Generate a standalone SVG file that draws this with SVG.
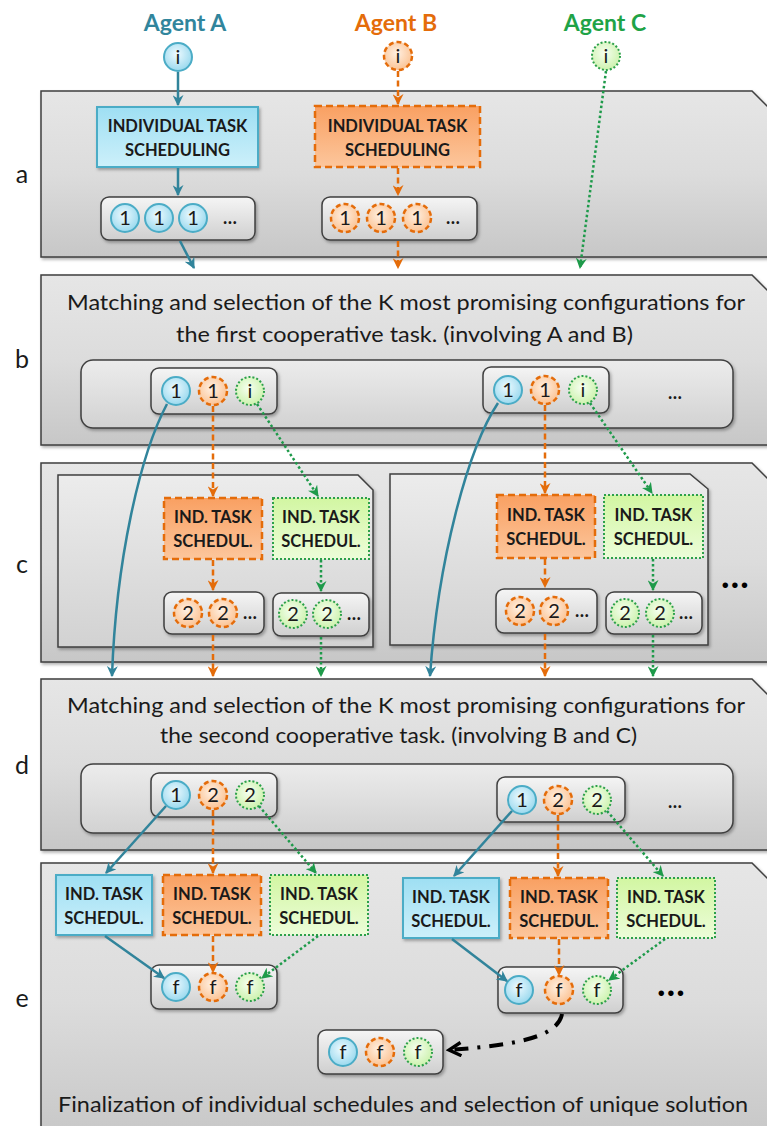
<svg xmlns="http://www.w3.org/2000/svg" width="767" height="1126" viewBox="0 0 767 1126">
<defs>
<style>
.panel{fill:url(#gPanel);stroke:#3f3f3f;stroke-width:1.5;filter:url(#sh)}
.inner{fill:url(#gInner);stroke:#3f3f3f;stroke-width:1.5;filter:url(#sh)}
.seq{fill:url(#gSeq);stroke:#3f3f3f;stroke-width:1.5;filter:url(#sh)}
.bbox{fill:url(#gBlueBox);stroke:#4bacc6;stroke-width:2;filter:url(#sh)}
.obox{fill:url(#gOrBox);stroke:#e46c0a;stroke-width:2.5;stroke-dasharray:7 4}
.gbox{fill:url(#gGrBox);stroke:#2ca04a;stroke-width:2;stroke-dasharray:2 2}
.cb{fill:url(#rBlue);stroke:#4bacc6;stroke-width:2}
.co{fill:url(#rOr);stroke:#e46c0a;stroke-width:2.5;stroke-dasharray:5 3}
.cg{fill:url(#rGr);stroke:#2ca04a;stroke-width:2;stroke-dasharray:2 2}
.ct{font-family:Lato,'Liberation Sans',sans-serif;font-size:20px;fill:#1a1a1a;text-anchor:middle}
.el{font-family:Lato,'Liberation Sans',sans-serif;font-size:18px;font-weight:bold;fill:#1a1a1a;text-anchor:middle}
.bel{font-family:Lato,'Liberation Sans',sans-serif;font-size:36px;font-weight:bold;fill:#000;text-anchor:middle}
.bt{font-family:Lato,'Liberation Sans',sans-serif;font-weight:bold;font-size:16.5px;fill:#1a1a1a;text-anchor:middle}
.bs{font-family:Lato,'Liberation Sans',sans-serif;font-weight:bold;font-size:16.5px;fill:#1a1a1a;text-anchor:middle}
.mt{font-family:Lato,'Liberation Sans',sans-serif;font-size:21px;fill:#1a1a1a}
.lab{font-family:Lato,'Liberation Sans',sans-serif;font-size:25px;fill:#1a1a1a;text-anchor:middle}
.ag{font-family:Lato,'Liberation Sans',sans-serif;font-size:23px;font-weight:bold;text-anchor:middle}
.ln{fill:none;stroke-width:2.5}
.lb{stroke:#31849b;marker-end:url(#mB)}
.lo{stroke:#e46c0a;stroke-dasharray:6 3.5;marker-end:url(#mO)}
.lg{stroke:#1e9a4a;stroke-dasharray:2.5 2.5;marker-end:url(#mG)}
</style>
<filter id="sh" x="-10%" y="-10%" width="130%" height="140%">
<feDropShadow dx="1.5" dy="2" stdDeviation="1.5" flood-color="#000" flood-opacity="0.3"/>
</filter>
<linearGradient id="gPanel" x1="0" y1="0" x2="0" y2="1">
<stop offset="0" stop-color="#e6e6e6"/><stop offset="0.5" stop-color="#dcdcdc"/><stop offset="1" stop-color="#c7c7c7"/>
</linearGradient>
<linearGradient id="gInner" x1="0" y1="0" x2="0" y2="1">
<stop offset="0" stop-color="#ececec"/><stop offset="1" stop-color="#d2d2d2"/>
</linearGradient>
<linearGradient id="gSeq" x1="0" y1="0" x2="0" y2="1">
<stop offset="0" stop-color="#f5f5f5"/><stop offset="1" stop-color="#cfcfcf"/>
</linearGradient>
<linearGradient id="gBlueBox" x1="0" y1="0" x2="0" y2="1">
<stop offset="0" stop-color="#9edff3"/><stop offset="1" stop-color="#cdf0fa"/>
</linearGradient>
<linearGradient id="gOrBox" x1="0" y1="0" x2="0" y2="1">
<stop offset="0" stop-color="#f9a062"/><stop offset="1" stop-color="#fcc69c"/>
</linearGradient>
<linearGradient id="gGrBox" x1="0" y1="0" x2="0" y2="1">
<stop offset="0" stop-color="#d2f6a2"/><stop offset="1" stop-color="#ecfdd9"/>
</linearGradient>
<radialGradient id="rBlue" cx="0.45" cy="0.4" r="0.6">
<stop offset="0" stop-color="#eefaff"/><stop offset="1" stop-color="#9ad9ee"/>
</radialGradient>
<radialGradient id="rOr" cx="0.45" cy="0.4" r="0.6">
<stop offset="0" stop-color="#fff0e2"/><stop offset="1" stop-color="#fbc394"/>
</radialGradient>
<radialGradient id="rGr" cx="0.45" cy="0.4" r="0.6">
<stop offset="0" stop-color="#f6fff0"/><stop offset="1" stop-color="#cdf2ae"/>
</radialGradient>
<marker id="mB" viewBox="0 0 10 10" refX="9" refY="5" markerWidth="11" markerHeight="11" markerUnits="userSpaceOnUse" orient="auto">
<path d="M0,0 L10,5 L0,10 L3,5 Z" fill="#31849b"/>
</marker>
<marker id="mO" viewBox="0 0 10 10" refX="9" refY="5" markerWidth="11" markerHeight="11" markerUnits="userSpaceOnUse" orient="auto">
<path d="M0,0 L10,5 L0,10 L3,5 Z" fill="#e46c0a"/>
</marker>
<marker id="mG" viewBox="0 0 10 10" refX="9" refY="5" markerWidth="11" markerHeight="11" markerUnits="userSpaceOnUse" orient="auto">
<path d="M0,0 L10,5 L0,10 L3,5 Z" fill="#1e9a4a"/>
</marker>
<marker id="mK" viewBox="0 0 12 12" refX="10" refY="6" markerWidth="16" markerHeight="16" markerUnits="userSpaceOnUse" orient="auto">
<path d="M1,1 L10,6 L1,11" fill="none" stroke="#000" stroke-width="2.5"/>
</marker>
</defs>

<rect width="767" height="1126" fill="#fff"/>

<!-- panels -->
<g id="panel-a"><path class="panel" d="M41,91 H752 L770,109 V257 H41 Z"/><text class="lab" x="22" y="183">a</text></g>
<g id="panel-b"><path class="panel" d="M41,275 H752 L770,293 V445 H41 Z"/><text class="lab" x="22" y="368">b</text>
<text class="mt" x="67" y="310" textLength="678" lengthAdjust="spacingAndGlyphs">Matching and selection of the K most promising configurations for</text>
<text class="mt" x="176" y="342" textLength="457" lengthAdjust="spacingAndGlyphs">the first cooperative task. (involving A and B)</text>
<rect class="inner" x="81" y="360" width="652" height="68" rx="12"/>
<text class="el" x="675" y="399">…</text>
</g>
<g id="panel-c"><path class="panel" d="M41,463 H752 L770,481 V662 H41 Z"/><text class="lab" x="22" y="573">c</text>
<path class="inner" d="M58,475 H358 L373,490 V647 H58 Z"/>
<path class="inner" d="M390,474 H690 L708,489 V645 H390 Z"/>
<text class="bel" x="735" y="588">…</text>
</g>
<g id="panel-d"><path class="panel" d="M41,679 H752 L770,697 V850 H41 Z"/><text class="lab" x="22" y="774">d</text>
<text class="mt" x="67" y="713" textLength="678" lengthAdjust="spacingAndGlyphs">Matching and selection of the K most promising configurations for</text>
<text class="mt" x="160" y="743" textLength="477" lengthAdjust="spacingAndGlyphs">the second cooperative task. (involving B and C)</text>
<rect class="inner" x="81" y="764" width="652" height="69" rx="12"/>
<text class="el" x="675" y="808">…</text>
</g>
<g id="panel-e"><path class="panel" d="M41,863 H752 L770,881 V1140 H41 Z"/><text class="lab" x="22" y="1007">e</text>
<text class="mt" x="58" y="1112" textLength="690" lengthAdjust="spacingAndGlyphs">Finalization of individual schedules and selection of unique solution</text>
<text class="bel" x="671" y="996">…</text>
</g>

<!-- agents -->
<g id="agent-a"><text class="ag" x="185" y="31" fill="#31859c">Agent A</text><circle class="cb" cx="178" cy="57" r="14"/><text class="ct" x="178" y="64">i</text></g>
<g id="agent-b"><text class="ag" x="396" y="31" fill="#e46c0a">Agent B</text><circle class="co" cx="398" cy="56" r="14"/><text class="ct" x="398" y="63">i</text></g>
<g id="agent-c"><text class="ag" x="605" y="31" fill="#1fa347">Agent C</text><circle class="cg" cx="606" cy="56" r="14"/><text class="ct" x="606" y="63">i</text></g>

<!-- panel a nodes -->
<g id="a-task-a"><rect class="bbox" x="97" y="107" width="161" height="60"/><text class="bt" x="177.5" y="132">INDIVIDUAL TASK</text><text class="bt" x="177.5" y="156">SCHEDULING</text></g>
<g id="a-task-b"><rect class="obox" x="315" y="106" width="165" height="61"/><text class="bt" x="397.5" y="132">INDIVIDUAL TASK</text><text class="bt" x="397.5" y="156">SCHEDULING</text></g>
<g id="a-seq-a"><rect class="seq" x="101" y="197" width="154" height="43" rx="8"/>
<circle class="cb" cx="125" cy="218" r="14"/><text class="ct" x="125" y="225">1</text>
<circle class="cb" cx="159" cy="218" r="14"/><text class="ct" x="159" y="225">1</text>
<circle class="cb" cx="193" cy="218" r="14"/><text class="ct" x="193" y="225">1</text>
<text class="el" x="230" y="224">…</text></g>
<g id="a-seq-b"><rect class="seq" x="322" y="197" width="155" height="43" rx="8"/>
<circle class="co" cx="345" cy="218" r="14"/><text class="ct" x="345" y="225">1</text>
<circle class="co" cx="381" cy="218" r="14"/><text class="ct" x="381" y="225">1</text>
<circle class="co" cx="417" cy="218" r="14"/><text class="ct" x="417" y="225">1</text>
<text class="el" x="453" y="224">…</text></g>

<!-- panel b nodes -->
<g id="b-conf-1"><rect class="seq" x="151" y="368" width="126" height="46" rx="8"/>
<circle class="cb" cx="176" cy="391" r="14"/><text class="ct" x="176" y="398">1</text>
<circle class="co" cx="213" cy="391" r="14"/><text class="ct" x="213" y="398">1</text>
<circle class="cg" cx="250" cy="391" r="14"/><text class="ct" x="250" y="398">i</text></g>
<g id="b-conf-2"><rect class="seq" x="483" y="367" width="126" height="46" rx="8"/>
<circle class="cb" cx="508" cy="390" r="14"/><text class="ct" x="508" y="397">1</text>
<circle class="co" cx="545" cy="390" r="14"/><text class="ct" x="545" y="397">1</text>
<circle class="cg" cx="583" cy="390" r="14"/><text class="ct" x="583" y="397">i</text></g>

<!-- panel c nodes -->
<g id="c1-task-b"><rect class="obox" x="164" y="498" width="98" height="61"/><text class="bs" x="213" y="523">IND. TASK</text><text class="bs" x="213" y="547">SCHEDUL.</text></g>
<g id="c1-task-c"><rect class="gbox" x="273" y="498" width="96" height="61"/><text class="bs" x="321" y="523">IND. TASK</text><text class="bs" x="321" y="547">SCHEDUL.</text></g>
<g id="c1-seq-b"><rect class="seq" x="164" y="592" width="100" height="42" rx="8"/>
<circle class="co" cx="188" cy="613" r="14"/><text class="ct" x="188" y="620">2</text>
<circle class="co" cx="223" cy="613" r="14"/><text class="ct" x="223" y="620">2</text>
<text class="el" x="250" y="619">…</text></g>
<g id="c1-seq-c"><rect class="seq" x="273" y="593" width="96" height="43" rx="8"/>
<circle class="cg" cx="293" cy="614" r="14"/><text class="ct" x="293" y="621">2</text>
<circle class="cg" cx="327" cy="614" r="14"/><text class="ct" x="327" y="621">2</text>
<text class="el" x="354" y="620">…</text></g>
<g id="c2-task-b"><rect class="obox" x="497" y="495" width="98" height="63"/><text class="bs" x="546" y="521">IND. TASK</text><text class="bs" x="546" y="545">SCHEDUL.</text></g>
<g id="c2-task-c"><rect class="gbox" x="604" y="495" width="99" height="63"/><text class="bs" x="653.5" y="521">IND. TASK</text><text class="bs" x="653.5" y="545">SCHEDUL.</text></g>
<g id="c2-seq-b"><rect class="seq" x="496" y="589" width="101" height="44" rx="8"/>
<circle class="co" cx="520" cy="611" r="14"/><text class="ct" x="520" y="618">2</text>
<circle class="co" cx="554" cy="611" r="14"/><text class="ct" x="554" y="618">2</text>
<text class="el" x="582" y="617">…</text></g>
<g id="c2-seq-c"><rect class="seq" x="606" y="592" width="96" height="42" rx="8"/>
<circle class="cg" cx="625" cy="613" r="14"/><text class="ct" x="625" y="620">2</text>
<circle class="cg" cx="660" cy="613" r="14"/><text class="ct" x="660" y="620">2</text>
<text class="el" x="686" y="619">…</text></g>

<!-- panel d nodes -->
<g id="d-conf-1"><rect class="seq" x="151" y="773" width="126" height="44" rx="8"/>
<circle class="cb" cx="176" cy="795" r="14"/><text class="ct" x="176" y="802">1</text>
<circle class="co" cx="213" cy="795" r="14"/><text class="ct" x="213" y="802">2</text>
<circle class="cg" cx="250" cy="795" r="14"/><text class="ct" x="250" y="802">2</text></g>
<g id="d-conf-2"><rect class="seq" x="497" y="777" width="128" height="45" rx="8"/>
<circle class="cb" cx="522" cy="800" r="14"/><text class="ct" x="522" y="807">1</text>
<circle class="co" cx="558" cy="800" r="14"/><text class="ct" x="558" y="807">2</text>
<circle class="cg" cx="597" cy="800" r="14"/><text class="ct" x="597" y="807">2</text></g>

<!-- panel e nodes -->
<g id="e1-task-a"><rect class="bbox" x="56" y="875" width="96" height="60"/><text class="bs" x="104" y="900">IND. TASK</text><text class="bs" x="104" y="924">SCHEDUL.</text></g>
<g id="e1-task-b"><rect class="obox" x="163" y="875" width="98" height="60"/><text class="bs" x="212" y="900">IND. TASK</text><text class="bs" x="212" y="924">SCHEDUL.</text></g>
<g id="e1-task-c"><rect class="gbox" x="270" y="875" width="98" height="60"/><text class="bs" x="319" y="900">IND. TASK</text><text class="bs" x="319" y="924">SCHEDUL.</text></g>
<g id="e1-final"><rect class="seq" x="151" y="965" width="126" height="44" rx="8"/>
<circle class="cb" cx="176" cy="987" r="14"/><text class="ct" x="176" y="994">f</text>
<circle class="co" cx="213" cy="987" r="14"/><text class="ct" x="213" y="994">f</text>
<circle class="cg" cx="250" cy="987" r="14"/><text class="ct" x="250" y="994">f</text></g>
<g id="e2-task-a"><rect class="bbox" x="403" y="878" width="96" height="60"/><text class="bs" x="451" y="903">IND. TASK</text><text class="bs" x="451" y="927">SCHEDUL.</text></g>
<g id="e2-task-b"><rect class="obox" x="510" y="878" width="98" height="60"/><text class="bs" x="559" y="903">IND. TASK</text><text class="bs" x="559" y="927">SCHEDUL.</text></g>
<g id="e2-task-c"><rect class="gbox" x="617" y="878" width="98" height="60"/><text class="bs" x="666" y="903">IND. TASK</text><text class="bs" x="666" y="927">SCHEDUL.</text></g>
<g id="e2-final"><rect class="seq" x="498" y="967" width="125" height="46" rx="8"/>
<circle class="cb" cx="519" cy="990" r="14"/><text class="ct" x="519" y="997">f</text>
<circle class="co" cx="559" cy="990" r="14"/><text class="ct" x="559" y="997">f</text>
<circle class="cg" cx="597" cy="990" r="14"/><text class="ct" x="597" y="997">f</text></g>
<g id="e-solution"><rect class="seq" x="318" y="1030" width="125" height="44" rx="8"/>
<circle class="cb" cx="343" cy="1052" r="14"/><text class="ct" x="343" y="1059">f</text>
<circle class="co" cx="380" cy="1052" r="14"/><text class="ct" x="380" y="1059">f</text>
<circle class="cg" cx="418" cy="1052" r="14"/><text class="ct" x="418" y="1059">f</text></g>

<!-- connectors -->
<g id="connectors">
<path class="ln lb" d="M178,72 V105"/>
<path class="ln lb" d="M178,168 V195"/>
<path class="ln lb" d="M180,241 L194,268"/>
<path class="ln lo" d="M398,71 V104"/>
<path class="ln lo" d="M398,168 V195"/>
<path class="ln lo" d="M398,241 V268"/>
<path class="ln lg" d="M606,71 L580,268"/>

<path class="ln lb" d="M167,404 C140,455 116,560 112,676"/>
<path class="ln lo" d="M213,406 V496"/>
<path class="ln lo" d="M213,560 V590"/>
<path class="ln lo" d="M213,635 V676"/>
<path class="ln lg" d="M257,404 L318,496"/>
<path class="ln lg" d="M321,560 V591"/>
<path class="ln lg" d="M321,637 V676"/>

<path class="ln lb" d="M498,403 C468,448 438,560 430,676"/>
<path class="ln lo" d="M545,405 V493"/>
<path class="ln lo" d="M545,559 V587"/>
<path class="ln lo" d="M545,634 V676"/>
<path class="ln lg" d="M590,403 L652,493"/>
<path class="ln lg" d="M653,559 V590"/>
<path class="ln lg" d="M653,635 V676"/>

<path class="ln lb" d="M166,806 L106,873"/>
<path class="ln lo" d="M213,810 V873"/>
<path class="ln lg" d="M259,806 L316,873"/>
<path class="ln lb" d="M105,936 L164,978"/>
<path class="ln lo" d="M213,936 V972"/>
<path class="ln lg" d="M318,936 L262,978"/>

<path class="ln lb" d="M512,811 L454,876"/>
<path class="ln lo" d="M558,815 V876"/>
<path class="ln lg" d="M607,811 L663,876"/>
<path class="ln lb" d="M452,939 L507,981"/>
<path class="ln lo" d="M559,939 V975"/>
<path class="ln lg" d="M665,939 L609,980"/>

<path d="M562,1014 C558,1036 520,1045 449,1050" fill="none" stroke="#000" stroke-width="4" stroke-dasharray="14 9 3 9" marker-end="url(#mK)"/>
</g>
</svg>
